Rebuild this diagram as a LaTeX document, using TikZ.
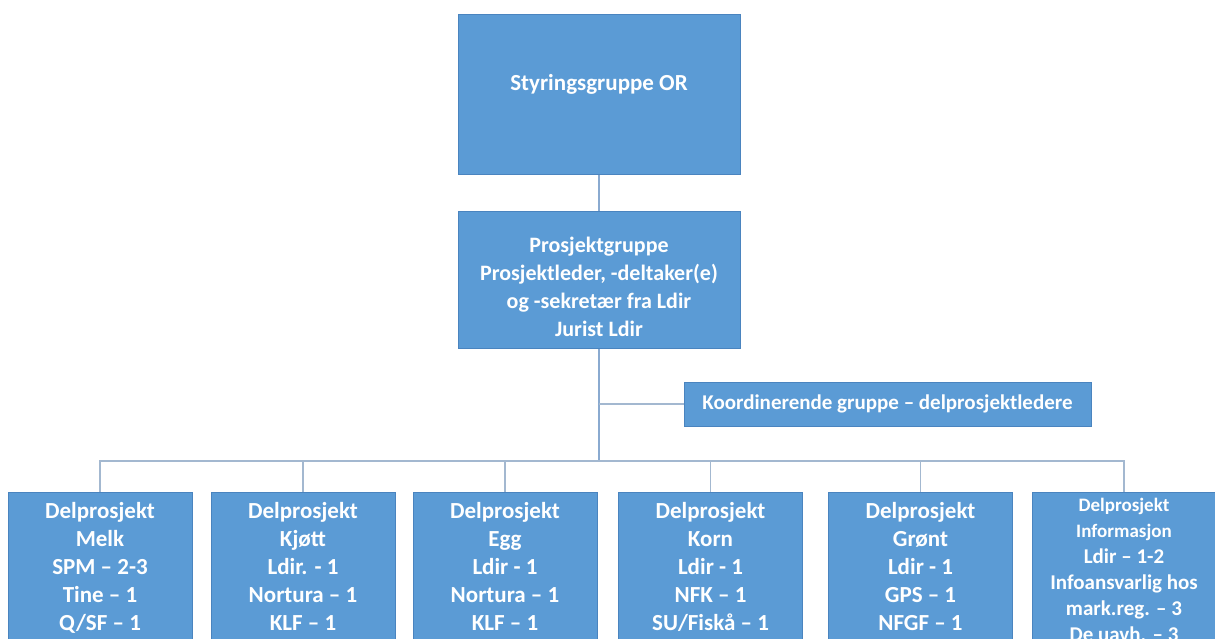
\documentclass[tikz,border=0pt]{standalone}
\usepackage{fontspec}
\setmainfont{Carlito}
\definecolor{boxfill}{HTML}{5B9BD5}
\definecolor{boxline}{HTML}{4A84BF}
\definecolor{connline}{HTML}{A3B8D0}
\definecolor{trunkline}{HTML}{8AAAD0}
\tikzset{
  box/.style={draw=boxline, line width=1pt, fill=boxfill, text=white, align=center, inner sep=0pt,
    font=\bfseries\fontsize{22}{28}\selectfont},
  lowbox/.style={box, minimum width=184, minimum height=220, anchor=north},
  lowtxt/.style={text=white, align=center, inner sep=0pt, anchor=north,
    font=\bfseries\fontsize{23}{28}\selectfont},
  conn/.style={draw=connline, line width=1.5pt},
  trunk/.style={draw=trunkline, line width=1.5pt}
}
\begin{document}
\begin{tikzpicture}[x=1pt,y=-1pt]
\useasboundingbox (0,0) rectangle (1215,638);
\clip (0,0) rectangle (1215,638);
% top boxes
\node[box, minimum width=282, minimum height=160, font=\bfseries\fontsize{23}{28}\selectfont] (top) at (599,94)
  {Styringsgruppe OR\\[-14pt]\strut};
\node[box, minimum width=282, minimum height=137] (mid) at (599,279.5)
  {\strut\\[-18pt]Prosjektgruppe\\Prosjektleder, -deltaker(e)\\og -sekretær fra Ldir\\Jurist Ldir};
\node[box, minimum width=407, minimum height=44, font=\bfseries\fontsize{21}{26}\selectfont] (koord) at (887.5,404)
  {Koordinerende gruppe – delprosjektledere};
% bottom boxes
\node[lowbox] (b1) at (100,492) {};
\node[lowbox] (b2) at (303,492) {};
\node[lowbox] (b3) at (505,492) {};
\node[lowbox] (b4) at (710.5,492) {};
\node[lowbox] (b5) at (920.5,492) {};
\node[lowbox] (b6) at (1124,492) {};
\node[lowtxt] (t1) at (100,502) {Delprosjekt\\Melk\\SPM – 2-3\\Tine – 1\\Q/SF – 1};
\node[lowtxt] (t2) at (303,502) {Delprosjekt\\Kjøtt\\Ldir. - 1\\Nortura – 1\\KLF – 1};
\node[lowtxt] (t3) at (505,502) {Delprosjekt\\Egg\\Ldir - 1\\Nortura – 1\\KLF – 1};
\node[lowtxt] (t4) at (710.5,502) {Delprosjekt\\Korn\\Ldir - 1\\NFK – 1\\SU/Fiskå – 1};
\node[lowtxt] (t5) at (920.5,502) {Delprosjekt\\Grønt\\Ldir - 1\\GPS – 1\\NFGF – 1};
\node[lowtxt, font=\bfseries\fontsize{21}{26}\selectfont] (t6) at (1124,498)
  {{\fontsize{19}{25}\selectfont Delprosjekt}\\{\fontsize{19}{25}\selectfont Informasjon}\\Ldir – 1-2\\Infoansvarlig hos\\mark.reg. – 3\\De uavh. – 3};
% connectors
\coordinate (bus) at (599,461);
\coordinate (kj) at (599,404);
\draw[trunk] (top.south) -- (mid.north);
\draw[trunk] (mid.south) -- (bus);
\draw[conn] (kj) -- (koord.west);
\draw[conn] (b1.north) -- (b1.north |- bus) -- (b6.north |- bus) -- (b6.north);
\foreach \b in {b2,b3,b4,b5} \draw[conn] (\b.north) -- (\b.north |- bus);
\end{tikzpicture}
\end{document}
